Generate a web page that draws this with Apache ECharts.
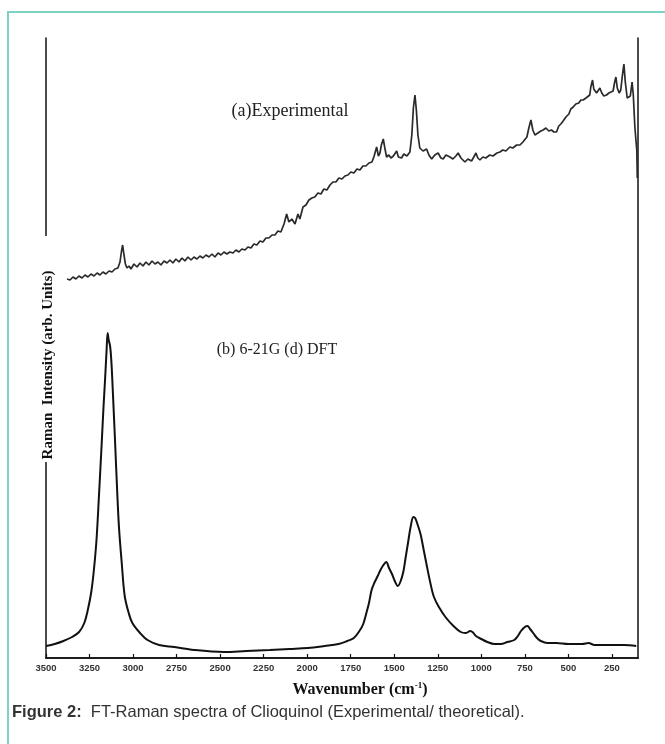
<!DOCTYPE html>
<html><head><meta charset="utf-8">
<script src="https://cdn.jsdelivr.net/npm/echarts@6/dist/echarts.min.js"></script>
<style>html,body{margin:0;padding:0;background:#fff;}#c{width:665px;height:744px;}</style>
</head><body><div id="c"></div>
<script>
// Tick labels of the wavenumber axis
const xTicks = [3500, 3250, 3000, 2750, 2500, 2250, 2000, 1750, 1500, 1250, 1000, 750, 500, 250];

// (a) Experimental FT-Raman spectrum (wavenumber, arb. intensity)
const expWavenumber = [3379,3362,3345,3328,3311,3293,3276,3259,3242,3224,3207,3190,3173,3156,3138,3121,3104,3087,3075,3067,3060,3052,3044,3035,3023,3012,2995,2977,2960,2943,2926,2909,2891,2874,2857,2840,2822,2805,2788,2771,2754,2736,2719,2702,2685,2667,2650,2633,2616,2599,2581,2564,2547,2530,2512,2495,2478,2461,2444,2426,2409,2392,2375,2357,2340,2323,2306,2289,2271,2254,2237,2220,2202,2185,2168,2151,2133,2118,2105,2088,2070,2053,2042,2024,2007,1990,1973,1956,1938,1921,1904,1887,1869,1852,1835,1818,1800,1783,1766,1749,1732,1714,1697,1680,1663,1645,1628,1617,1601,1591,1582,1574,1563,1554,1544,1531,1519,1505,1486,1476,1458,1445,1427,1410,1399,1390,1381,1373,1364,1353,1335,1314,1301,1285,1267,1248,1232,1219,1203,1180,1163,1146,1133,1117,1094,1077,1056,1043,1031,1020,1008,991,974,951,933,910,893,876,859,836,819,797,778,761,750,738,727,715,704,692,675,658,645,629,612,597,583,568,555,543,530,514,497,486,472,457,440,428,415,399,388,377,371,361,354,338,328,319,308,296,281,267,256,243,235,227,219,208,199,190,181,173,162,153,144,134,127,118,112,107,104];
const expIntensity = [379,378,381,379,382,380,383,381,384,382,385,383,386,384,387,386,389,390,396,406,413,403,394,390,392,389,394,391,395,392,396,393,397,394,396,393,397,395,398,395,399,396,400,397,401,398,401,399,402,400,403,401,404,401,405,403,406,404,406,405,408,406,409,408,411,410,414,413,417,416,420,420,423,423,427,426,434,444,436,439,434,444,439,451,453,458,460,461,465,464,469,468,473,476,476,480,479,482,483,486,485,489,488,492,492,495,496,501,511,502,505,513,519,510,501,503,500,502,507,501,500,504,502,506,523,550,563,548,523,510,507,509,503,499,503,505,500,499,503,501,499,502,505,500,496,499,497,501,505,500,498,501,500,503,502,505,506,508,507,511,510,513,513,516,518,521,530,538,528,523,525,527,528,530,527,528,526,526,532,534,537,541,544,549,551,554,555,558,558,560,562,563,571,578,569,565,567,570,565,562,563,565,564,567,575,581,570,565,568,582,594,576,560,559,562,576,563,531,518,508,480];

// (b) 6-21G (d) DFT simulated spectrum
const dftWavenumber = [3500,3450,3400,3350,3310,3280,3260,3240,3225,3210,3195,3180,3170,3160,3152,3146,3140,3132,3125,3115,3103,3092,3081,3065,3048,3025,3004,2960,2917,2850,2763,2650,2478,2350,2215,2100,1996,1900,1820,1770,1732,1700,1678,1660,1645,1630,1612,1595,1579,1562,1546,1530,1513,1497,1480,1465,1448,1435,1421,1405,1390,1380,1365,1349,1333,1316,1295,1272,1240,1206,1160,1118,1090,1063,1045,1031,1000,965,925,888,850,811,790,772,750,735,720,702,680,658,620,570,500,460,420,384,350,300,241,180,110];
const dftIntensity = [12,14,17,21,26,35,48,66,88,118,165,215,250,281,308,325,318,312,298,262,215,170,131,95,62,45,35,25,18,13,11,8,6,7,8,9,10,12,14,17,20,27,34,45,55,68,76,82,88,93,96,90,84,77,72,76,86,100,115,132,141,140,133,124,110,95,77,61,50,41,32,26,25,27,25,22,19,16,14,14,16,18,22,27,31,32,29,25,20,17,15,15,14,14,14,15,13,13,13,13,12];

const chart = echarts.init(document.getElementById('c'));
const toPairs = (xs, ys) => xs.map((x, i) => [x, ys[i]]);
const serif = '"Liberation Serif","Times New Roman",serif';

chart.setOption({
  animation: false,
  backgroundColor: '#fff',
  grid: { left: 46, right: 27, top: 38, bottom: 86 },
  xAxis: [{
    type: 'value', inverse: true, min: 100, max: 3500, position: 'bottom',
    axisLine: { show: true, lineStyle: { color: '#111', width: 1.5 } },
    axisTick: { show: true, inside: true, length: 4, customValues: xTicks, lineStyle: { color: '#111', width: 1.2 } },
    axisLabel: { show: true, customValues: xTicks, margin: 5, fontSize: 9.5, fontWeight: 'bold',
      fontFamily: '"Liberation Sans Narrow","Liberation Sans",sans-serif', color: '#333',
      formatter: v => String(v) },
    splitLine: { show: false }
  }, {
    type: 'value', inverse: true, min: 100, max: 3500, position: 'top',
    axisLine: { show: true, lineStyle: { color: '#111', width: 1.5 } },
    axisTick: { show: false }, axisLabel: { show: false }, splitLine: { show: false }
  }],
  yAxis: [{
    type: 'value', min: 0, max: 620, position: 'left',
    axisLine: { show: true, lineStyle: { color: '#111', width: 1.5 } },
    axisTick: { show: false }, axisLabel: { show: false }, splitLine: { show: false }
  }, {
    type: 'value', min: 0, max: 620, position: 'right',
    axisLine: { show: true, lineStyle: { color: '#111', width: 1.5 } },
    axisTick: { show: false }, axisLabel: { show: false }, splitLine: { show: false }
  }],
  series: [{
    name: '(a)Experimental', type: 'line', xAxisIndex: 0, yAxisIndex: 0,
    data: toPairs(expWavenumber, expIntensity), showSymbol: false, smooth: false,
    lineStyle: { color: '#2a2a2a', width: 1.7 }
  }, {
    name: '(b) 6-21G (d) DFT', type: 'line', xAxisIndex: 0, yAxisIndex: 0,
    data: toPairs(dftWavenumber, dftIntensity), showSymbol: false, smooth: 0.35,
    lineStyle: { color: '#111', width: 2 }
  }],
  graphic: [
    { type: 'line', z: 100, shape: { x1: 8, y1: 12, x2: 8, y2: 744 }, style: { stroke: '#7fd3c3', lineWidth: 2 } },
    { type: 'line', z: 100, shape: { x1: 7, y1: 12, x2: 665, y2: 12 }, style: { stroke: '#7fd3c3', lineWidth: 2 } },
    { type: 'rect', z: 100, shape: { x: 40, y: 236, width: 14, height: 226 }, style: { fill: '#fff' } },
    { type: 'text', z: 101, x: 48, y: 365, rotation: Math.PI / 2,
      style: { text: 'Raman  Intensity (arb. Units)', font: 'bold 15px ' + serif, fill: '#111', align: 'center', verticalAlign: 'middle' } },
    { type: 'text', z: 101, x: 290, y: 111,
      style: { text: '(a)Experimental', font: '18px ' + serif, fill: '#222', align: 'center', verticalAlign: 'middle' } },
    { type: 'text', z: 101, x: 277, y: 350,
      style: { text: '(b) 6-21G (d) DFT', font: '16px ' + serif, fill: '#222', align: 'center', verticalAlign: 'middle' } },
    { type: 'text', z: 101, x: 360, y: 690,
      style: { text: '{a|Wavenumber (cm}{s|-1}{a|)}', fill: '#111', align: 'center', verticalAlign: 'middle',
        rich: {
          a: { fontFamily: serif, fontSize: 16, fontWeight: 'bold', fill: '#111' },
          s: { fontFamily: serif, fontSize: 9, fontWeight: 'bold', fill: '#111', verticalAlign: 'top', padding: [0, 0, 9, 0] }
        } } },
    { type: 'text', z: 101, x: 12, y: 712,
      style: { text: '{b|Figure 2:}  FT-Raman spectra of Clioquinol (Experimental/ theoretical).',
        font: '16.5px "Liberation Sans",Arial,sans-serif', fill: '#333', verticalAlign: 'middle',
        rich: { b: { fontFamily: '"Liberation Sans",Arial,sans-serif', fontSize: 16.5, fontWeight: 'bold', fill: '#333' } } } }
  ]
});
</script></body></html>
